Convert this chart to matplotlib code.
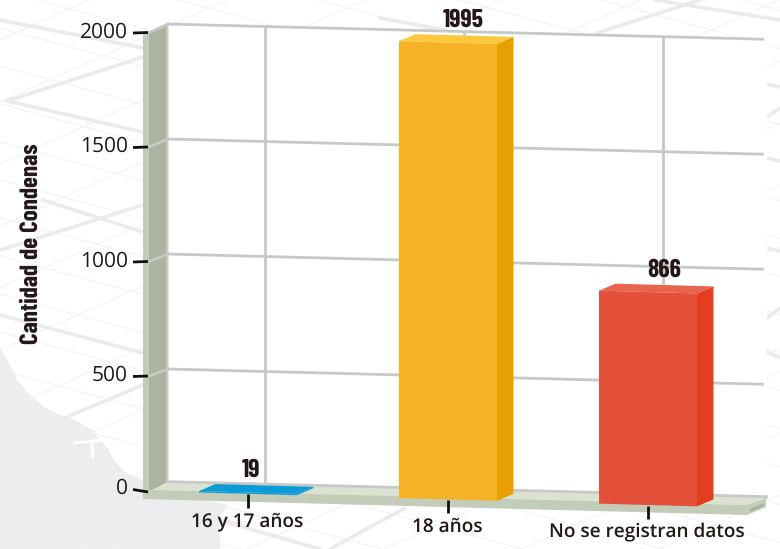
import matplotlib
matplotlib.use('agg')
import matplotlib.pyplot as plt
import numpy as np
from matplotlib.patches import Polygon
from matplotlib.transforms import Affine2D

categories = ['16 y 17 años', '18 años', 'No se registran datos']
value_labels = [19, 1995, 866]
# bar heights as they are drawn in the picture (not quite the printed labels)
bar_heights = [6, 1995, 930]
y_ticks = [0, 500, 1000, 1500, 2000]
y_title = 'Cantidad de Condenas'

front_colors = ['#0b9bd7', '#f6b226', '#e4503a']
side_colors = ['#0b9bd7', '#e8a000', '#e43d20']
top_colors = ['#0b9bd7', '#fcc83c', '#e8654d']

TEXT = '#231815'
GRID = '#c8c8c8'
NARROW = ['Barlow Condensed', 'Liberation Sans']

plt.rcParams['text.hinting'] = 'no_hinting'
plt.rcParams['text.hinting_factor'] = 1

fig = plt.figure(figsize=(7.8, 5.49), dpi=100)
ax = fig.add_axes([0, 0, 1, 1])
# axes are in picture pixels, the two transforms below place category/value on it
ax.set_xlim(0, 780)
ax.set_ylim(549, 0)
ax.axis('off')

front_tf = Affine2D.from_values(200, 5.6, 0, -0.229, 248, 493.8)
back_tf = Affine2D.from_values(199, 5.09, 0, -0.23, 265, 486.5)
depth_tf = front_tf + Affine2D().translate(16.5, -7)
half = 0.245


def pt(tf, x, y):
    return tf.transform((x, y))


# background: map
land = [(0, 348), (10, 365), (17, 380), (30, 395), (45, 408), (60, 415), (75, 420),
        (92, 430), (100, 440), (107, 447), (115, 462), (125, 472), (143, 480),
        (160, 490), (228, 505), (220, 515), (220, 549), (0, 549)]
ax.add_patch(Polygon(land, closed=True, fc='#ecedef', ec='none', zorder=1))
ax.plot([75, 102], [443, 440], color='white', lw=2, zorder=1.1)
ax.plot([92, 93], [443, 457], color='white', lw=2, zorder=1.1)

for off in np.arange(-200, 760, 38):
    ax.plot([0, 780], [off, off + 0.27 * 780], color='#f1f1f1', lw=0.7, zorder=1.2)
for off in np.arange(40, 1000, 62):
    ax.plot([0, 780], [off, off - 0.45 * 780], color='#f1f1f1', lw=0.7, zorder=1.2)

thick_lines = [((0, 20), (143, 48)), ((7, 101), (143, 57)), ((7, 101), (143, 132)),
               ((43, 200), (143, 232)), ((0, 250), (143, 205)), ((0, 315), (143, 353)),
               ((0, 445), (143, 385)), ((0, 458), (320, 549)), ((330, 549), (405, 508)),
               ((180, 508), (240, 525)), ((380, 18), (445, 30)), ((597, 33), (700, 0)),
               ((655, 0), (780, 20)), ((767, 84), (780, 87)), ((767, 117), (780, 108)),
               ((767, 158), (780, 161)), ((767, 248), (780, 251)), ((767, 318), (780, 308)),
               ((767, 352), (780, 358))]
for a, b in thick_lines:
    ax.plot([a[0], b[0]], [a[1], b[1]], color='#ebebeb', lw=2.6, zorder=1.3)

# back wall
ax.add_patch(Polygon([pt(back_tf, -0.487, 2000), (767, 39), (767, 500), pt(back_tf, -0.487, 0)],
                     closed=True, fc='white', ec='none', zorder=2))
for v in y_ticks[1:]:
    ax.plot([pt(back_tf, -0.487, v)[0], pt(back_tf, 2.5, v)[0]],
            [pt(back_tf, -0.487, v)[1], pt(back_tf, 2.5, v)[1]], color=GRID, lw=2, zorder=2.2)
for i in range(3):
    a = pt(back_tf, i, 0)
    b = pt(back_tf, i, 2000)
    ax.plot([a[0], b[0]], [a[1], b[1]], color=GRID, lw=2, zorder=2.2)

# left wall
ax.add_patch(Polygon([(143, 33), (149, 33), (149, 492), (143, 499)], closed=True, fc='#c3ccb8', ec='none', zorder=3))
ax.add_patch(Polygon([(149, 33), (166, 25), (166, 483), (149, 492)], closed=True, fc='#acb3a0', ec='none', zorder=3))
ax.add_patch(Polygon([(166, 25), (168.5, 24), (168.5, 484), (166, 485)], closed=True, fc='#c3ccb8', ec='none', zorder=3))
for v in y_ticks[1:]:
    a = pt(front_tf, -0.5, v)
    b = pt(back_tf, -0.487, v)
    ax.plot([a[0], b[0]], [a[1], b[1]], color=GRID, lw=2, zorder=3.1)

# floor
ax.plot([168, 766], [482, 497], color=GRID, lw=2.5, zorder=3.2)
ax.add_patch(Polygon([(149, 491), (168, 483), (766, 498), (747, 505)], closed=True, fc='#dbe3d0', ec='none', zorder=3.3))
ax.add_patch(Polygon([(143, 491), (149, 490), (747, 505), (747, 515), (143, 499)], closed=True, fc='#c3ccb8', ec='none', zorder=3.3))
ax.add_patch(Polygon([(747, 505), (766, 498), (766, 507), (747, 515)], closed=True, fc='#c3ccb8', ec='none', zorder=3.3))
ax.add_patch(Polygon([(750, 509), (764, 503), (764, 506), (750, 512)], closed=True, fc='#a9b29f', ec='none', zorder=3.4))

# bars
label_shift = [-14, -1, 0]
for i, h in enumerate(bar_heights):
    x0, x1 = i - half, i + half
    ax.add_patch(Polygon([pt(front_tf, x1, 0), pt(depth_tf, x1, 0), pt(depth_tf, x1, h), pt(front_tf, x1, h)],
                         closed=True, fc=side_colors[i], ec='none', zorder=4))
    ax.add_patch(Polygon([pt(front_tf, x0, h), pt(front_tf, x1, h), pt(depth_tf, x1, h), pt(depth_tf, x0, h)],
                         closed=True, fc=top_colors[i], ec='none', zorder=4))
    ax.add_patch(Polygon([pt(front_tf, x0, 0), pt(front_tf, x1, 0), pt(front_tf, x1, h), pt(front_tf, x0, h)],
                         closed=True, fc=front_colors[i], ec='none', zorder=4))
    top = pt(depth_tf, i, h)
    ax.text(top[0] + label_shift[i], top[1] - 15, str(value_labels[i]), ha='center', va='center',
            family=NARROW, fontweight='bold', fontsize=18.5, color=TEXT, zorder=6)

# ticks and labels
for v in y_ticks:
    p = pt(front_tf, -0.5, v)
    drop = 1.5 if v == 0 else 0
    ax.plot([133, 148], [p[1] - drop, p[1] + drop - 0.5], color='#111111', lw=2, zorder=5, solid_capstyle='butt')
    ax.text(128, p[1] - 1 - drop, str(v), ha='right', va='center', family='Open Sans', fontsize=15.2, color=TEXT, zorder=6)

for i, name in enumerate(categories):
    p = pt(front_tf, i, 0)
    ax.plot([p[0], p[0]], [p[1] + 0.5, p[1] + 14], color='#111111', lw=2, zorder=5, solid_capstyle='butt')
    ax.text(p[0] - 1, p[1] + 27.5, name, ha='center', va='center', family='Open Sans', fontweight='semibold',
            fontsize=13.8, color=TEXT, zorder=6)

ax.text(31, 244, y_title, rotation=90, ha='center', va='center', family=NARROW, fontweight='bold',
        fontsize=18, color=TEXT, zorder=6)

fig.savefig('out.png', dpi=100)
